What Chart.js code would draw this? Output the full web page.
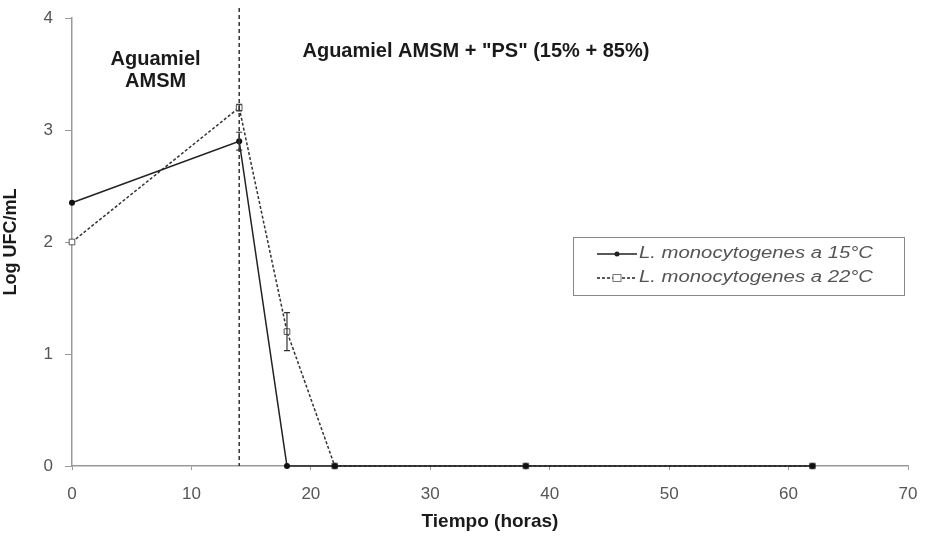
<!DOCTYPE html>
<html>
<head>
<meta charset="utf-8">
<script src="https://cdn.jsdelivr.net/npm/chart.js@4/dist/chart.umd.min.js"></script>
<style>
  html, body { margin: 0; padding: 0; background: #fff; }
  #wrap { width: 926px; height: 537px; position: relative; }
</style>
</head>
<body>
<div id="wrap"><canvas id="chart"></canvas></div>
<script>
// datos
const horas = [0, 14, 18, 22, 38, 62];
const log15 = [2.35, 2.9, 0, 0, 0, 0];
const err15 = [0, 0.08, 0, 0, 0, 0];
const log22 = [2.0, 3.2, 1.2, 0, 0, 0];
const err22 = [0, 0.03, 0.17, 0, 0, 0];
const xTicks = [0, 10, 20, 30, 40, 50, 60, 70];
const yTicks = [0, 1, 2, 3, 4];
const cambioHora = 14;
const serieNombres = ['L. monocytogenes a 15°C', 'L. monocytogenes a 22°C'];

const toPoints = (xs, ys) => xs.map((x, i) => ({ x, y: ys[i] }));
const FAM = '"Liberation Sans", Arial, sans-serif';

// barras de error, linea de cambio de medio, textos y leyenda
const extras = {
  id: 'extras',
  afterDatasetsDraw(chart) {
    const { ctx, scales: { x, y }, chartArea } = chart;
    ctx.save();

    // linea vertical punteada
    const xv = x.getPixelForValue(cambioHora);
    ctx.strokeStyle = '#333';
    ctx.lineWidth = 1.5;
    ctx.setLineDash([4, 3]);
    ctx.beginPath();
    ctx.moveTo(xv, chartArea.top - 10);
    ctx.lineTo(xv, chartArea.bottom);
    ctx.stroke();
    ctx.setLineDash([]);

    // barras de error
    const drawErr = (errs, vals) => {
      errs.forEach((e, i) => {
        if (!e) return;
        const px = x.getPixelForValue(horas[i]);
        const top = y.getPixelForValue(vals[i] + e);
        const bot = y.getPixelForValue(vals[i] - e);
        ctx.strokeStyle = '#333';
        ctx.lineWidth = 1.2;
        ctx.beginPath();
        ctx.moveTo(px, top); ctx.lineTo(px, bot);
        ctx.moveTo(px - 3, top); ctx.lineTo(px + 3, top);
        ctx.moveTo(px - 3, bot); ctx.lineTo(px + 3, bot);
        ctx.stroke();
      });
    };
    drawErr(err15, log15);
    drawErr(err22, log22);

    // textos
    ctx.fillStyle = '#1a1a1a';
    ctx.font = 'bold 20px ' + FAM;
    ctx.textAlign = 'center';
    ctx.textBaseline = 'middle';
    ctx.fillText('Aguamiel', x.getPixelForValue(7), y.getPixelForValue(3.63));
    ctx.fillText('AMSM', x.getPixelForValue(7), y.getPixelForValue(3.43));
    ctx.textAlign = 'left';
    ctx.fillText('Aguamiel AMSM + "PS" (15% + 85%)', x.getPixelForValue(19.3), y.getPixelForValue(3.7));

    // leyenda
    const lx = 573, ly = 237, lw = 331, lh = 58;
    ctx.strokeStyle = '#888';
    ctx.lineWidth = 1;
    ctx.strokeRect(lx + 0.5, ly + 0.5, lw, lh);
    const rows = [ly + 17, ly + 41];
    // fila 1
    ctx.strokeStyle = '#222';
    ctx.lineWidth = 1.5;
    ctx.beginPath();
    ctx.moveTo(lx + 24, rows[0]); ctx.lineTo(lx + 64, rows[0]);
    ctx.stroke();
    ctx.fillStyle = '#222';
    ctx.beginPath(); ctx.arc(lx + 44, rows[0], 2.5, 0, Math.PI * 2); ctx.fill();
    // fila 2
    ctx.setLineDash([3, 2]);
    ctx.beginPath();
    ctx.moveTo(lx + 24, rows[1]); ctx.lineTo(lx + 64, rows[1]);
    ctx.stroke();
    ctx.setLineDash([]);
    ctx.fillStyle = '#fff';
    ctx.fillRect(lx + 40, rows[1] - 3.5, 8, 7);
    ctx.strokeStyle = '#777';
    ctx.lineWidth = 1;
    ctx.strokeRect(lx + 40, rows[1] - 3.5, 8, 7);
    // textos de la leyenda (algo estirados como en la figura)
    ctx.font = 'italic 16px ' + FAM;
    ctx.fillStyle = '#555';
    ctx.textAlign = 'left';
    serieNombres.forEach((n, i) => {
      ctx.save();
      ctx.translate(lx + 66, rows[i]);
      ctx.scale(1.27, 1);
      ctx.fillText(n, 0, 0);
      ctx.restore();
    });

    ctx.restore();
  }
};

const tickFont = { family: FAM, size: 17 };

new Chart(document.getElementById('chart'), {
  type: 'line',
  data: {
    datasets: [
      {
        label: serieNombres[0],
        data: toPoints(horas, log15),
        borderColor: '#222',
        borderWidth: 1.5,
        backgroundColor: '#111',
        pointStyle: 'circle',
        pointRadius: 3,
        pointBorderWidth: 0,
        tension: 0
      },
      {
        label: serieNombres[1],
        data: toPoints(horas, log22),
        borderColor: '#333',
        borderWidth: 1.5,
        borderDash: [3, 2],
        backgroundColor: '#fff',
        pointStyle: 'rect',
        pointRadius: 4,
        pointBorderColor: '#555',
        pointBorderWidth: 1,
        tension: 0
      }
    ]
  },
  options: {
    responsive: true,
    maintainAspectRatio: false,
    animation: false,
    clip: false,
    layout: { padding: { left: 0, right: 18, top: 18, bottom: 0 } },
    plugins: { legend: { display: false }, tooltip: { enabled: false } },
    scales: {
      x: {
        type: 'linear',
        min: 0, max: 70,
        afterBuildTicks: s => { s.ticks = xTicks.map(v => ({ value: v })); },
        afterFit: s => { s.height = 71; s.paddingLeft = 0; s.paddingRight = 0; },
        grid: { drawOnChartArea: false, tickLength: 4, color: '#999' },
        border: { color: '#999', width: 1.5 },
        ticks: { color: '#555', font: tickFont, padding: 14, maxRotation: 0 },
        title: {
          display: true, text: 'Tiempo (horas)', color: '#1a1a1a',
          font: { family: FAM, size: 19, weight: 'bold' },
          padding: { top: 0, bottom: 4 }
        }
      },
      y: {
        min: 0, max: 4,
        afterBuildTicks: s => { s.ticks = yTicks.map(v => ({ value: v })); },
        afterFit: s => { s.width = 72; s.paddingTop = 0; s.paddingBottom = 0; },
        grid: { drawOnChartArea: false, tickLength: 7, color: '#999' },
        border: { color: '#999', width: 1.5 },
        ticks: { color: '#555', font: tickFont, padding: 12 },
        title: {
          display: true, text: 'Log UFC/mL', color: '#1a1a1a',
          font: { family: FAM, size: 18, weight: 'bold' },
          padding: { top: 0, bottom: 0 }
        }
      }
    }
  },
  plugins: [extras]
});
</script>
</body>
</html>
